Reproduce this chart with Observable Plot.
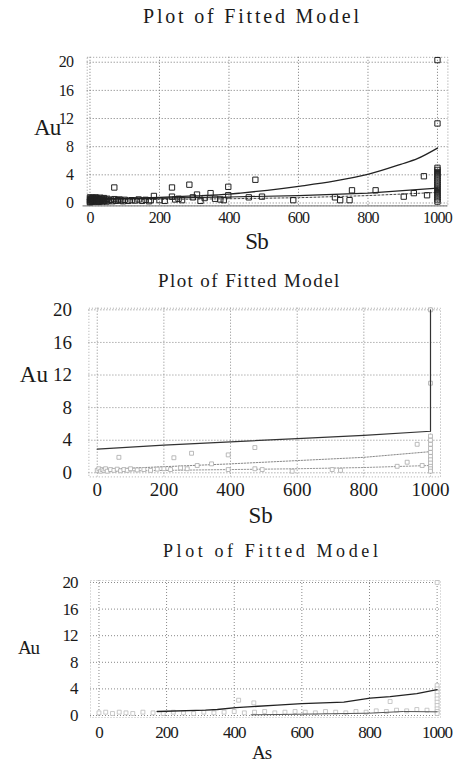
<!DOCTYPE html>
<html>
<head>
<meta charset="utf-8">
<script src="https://cdn.jsdelivr.net/npm/d3@7"></script>
<script src="https://cdn.jsdelivr.net/npm/@observablehq/plot@0.6"></script>
<style>
  body { margin: 0; background: #fff; }
  #root { position: relative; width: 456px; height: 762px; overflow: hidden; background: #fff; }
  .ttl { position: absolute; font-family: "Liberation Serif", "DejaVu Serif", serif; color: #1a1a1a; white-space: nowrap; line-height: 1; }
  .pnl { position: absolute; left: 0; }
  .pnl text { font-family: "Liberation Serif", "DejaVu Serif", serif; }
</style>
</head>
<body>
<div id="root"></div>
<script>
// ---------- shared tick labels ----------
const ticksX = [0, 200, 400, 600, 800, 1000];
const ticksY = [0, 4, 8, 12, 16, 20];
const titleText = "Plot of Fitted Model";
const yLabel = "Au";
const xLabels = ["Sb", "Sb", "As"];

// ---------- panel 1 (Au vs Sb) ----------
const p1X = [0,0,0,0,2,3,4,5,6,8,8,10,10,12,14,15,16,18,20,20,22,24,25,26,28,30,30,32,35,36,38,40,42,45,48,50,55,60,65,70,75,80,85,90,95,100,110,120,130,140,150,160,170,175,
  70,184,236,236,286,296,308,318,347,375,398,398,457,476,495,585,705,720,747,754,822,903,932,961,970,
  200,215,245,255,265,330,360,385,
  1000,1000,1000,1000,1000,1000,1000,1000,1000,1000,1000,1000,1000,1000,1000,1000,1000,1000,1000];
const p1Y = [0.2,0.5,0.8,0.1,0.4,0.7,0.2,0.55,0.3,0.75,0.15,0.45,0.65,0.25,0.6,0.35,0.8,0.5,0.2,0.7,0.4,0.6,0.15,0.3,0.55,0.75,0.25,0.45,0.6,0.2,0.4,0.7,0.3,0.5,0.2,0.6,0.35,0.45,0.25,0.55,0.3,0.4,0.5,0.35,0.25,0.45,0.3,0.4,0.35,0.5,0.3,0.45,0.25,0.4,
  2.2,1.0,2.2,0.9,2.6,0.8,1.2,0.3,1.4,0.5,2.3,1.1,0.8,3.3,0.9,0.4,0.8,0.4,0.4,1.8,1.8,0.9,1.4,3.8,1.1,
  0.4,0.3,0.5,0.6,0.4,0.7,0.6,0.4,
  20.3,11.3,5.0,4.7,4.4,4.1,3.8,3.5,3.2,2.9,2.6,2.3,2.0,1.7,1.4,1.1,0.8,0.5,0.2];
const p1UpperX = [0, 100, 200, 300, 400, 433, 510, 606, 702, 802, 894, 942, 1000];
const p1UpperY = [0.55, 0.65, 0.8, 1.0, 1.25, 1.4, 1.8, 2.4, 3.1, 4.1, 5.5, 6.3, 7.8];
const p1FitX = [0, 200, 400, 600, 800, 1000];
const p1FitY = [0.55, 0.7, 0.85, 1.05, 1.4, 2.1];
const p1LowX = [0, 200, 400, 600, 800, 1000];
const p1LowY = [0.45, 0.5, 0.6, 0.75, 1.05, 1.5];

// ---------- panel 2 (Au vs Sb) ----------
const p2X = [0,5,10,15,20,25,30,40,50,60,70,80,90,100,120,140,160,180,200,220,250,270,
  65,230,283,393,473,343,300,393,473,495,585,705,730,900,930,960,975,
  1000,1000,1000,1000,1000,1000,1000,1000,1000,1000,1000,1000,1000];
const p2Y = [0.3,0.5,0.2,0.4,0.3,0.5,0.2,0.4,0.3,0.45,0.25,0.4,0.3,0.5,0.35,0.4,0.3,0.45,0.5,0.4,0.6,0.5,
  1.9,1.85,2.4,2.2,3.1,1.1,0.9,0.4,0.5,0.4,0.2,0.4,0.3,0.8,1.3,3.5,0.9,
  20.0,11.0,4.5,4.0,3.5,3.0,2.5,2.0,1.6,1.2,0.8,0.5,0.2];
const p2UpperX = [0, 200, 400, 600, 800, 1000, 1000];
const p2UpperY = [2.9, 3.4, 3.8, 4.2, 4.6, 5.1, 20];
const p2MidX = [0, 200, 400, 600, 800, 1000];
const p2MidY = [0.4, 0.75, 1.1, 1.5, 1.9, 2.6];
const p2LowX = [0, 200, 400, 600, 800, 1000];
const p2LowY = [0.15, 0.3, 0.4, 0.5, 0.65, 0.9];

// ---------- panel 3 (Au vs As) ----------
const p3X = [0,20,40,60,80,100,130,160,190,220,250,280,310,340,370,400,430,460,490,520,550,580,610,640,670,700,730,760,790,820,850,880,910,940,970,
  413,458,861,
  1000,1000,1000,1000,1000,1000,1000,1000,1000,1000,1000];
const p3Y = [0.4,0.5,0.3,0.5,0.4,0.3,0.5,0.4,0.3,0.5,0.4,0.3,0.5,0.4,0.5,0.6,0.4,0.5,0.6,0.4,0.5,0.6,0.5,0.4,0.6,0.5,0.4,0.6,0.5,0.7,0.6,0.8,0.7,0.9,0.8,
  2.3,1.9,2.1,
  20.0,4.5,4.0,3.5,3.0,2.5,2.0,1.5,1.0,0.6,0.3];
const p3UpperX = [172, 315, 350, 405, 527, 600, 724, 802, 861, 940, 1000];
const p3UpperY = [0.6, 0.8, 0.9, 1.2, 1.55, 1.8, 2.0, 2.6, 2.85, 3.3, 3.9];
const p3LowX = [450, 600, 800, 900, 1000];
const p3LowY = [0.1, 0.2, 0.35, 0.6, 0.55];

const root = document.getElementById("root");
const serif = "Liberation Serif, DejaVu Serif, serif";
const fmt = d => String(d);

function addTitle(top, left, size, spacing) {
  const d = document.createElement("div");
  d.className = "ttl";
  d.style.top = top + "px";
  d.style.left = left + "px";
  d.style.fontSize = size + "px";
  d.style.letterSpacing = spacing + "px";
  d.textContent = titleText;
  root.appendChild(d);
}

function panel(cfg) {
  const marks = [
    Plot.gridX(ticksX, {stroke: cfg.grid, strokeOpacity: 1, strokeDasharray: "1,2"}),
    Plot.gridY(ticksY, {stroke: cfg.grid, strokeOpacity: 1, strokeDasharray: "1,2"}),
    Plot.frame({stroke: cfg.frame, strokeDasharray: "1,2"}),
    ...cfg.extra,
    Plot.axisX(ticksX, {tickSize: 0, tickPadding: cfg.xPad, tickFormat: fmt, fontSize: cfg.tickFont, fontFamily: serif, fill: "#1a1a1a", label: null}),
    Plot.axisY(ticksY, {tickSize: 0, tickPadding: cfg.yPad, tickFormat: fmt, fontSize: cfg.tickFont, fontFamily: serif, fill: "#1a1a1a", label: null}),
    Plot.text([yLabel], {frameAnchor: "left", dx: cfg.auDx, dy: cfg.auDy, fontSize: cfg.labFont, fontFamily: serif, fill: "#1a1a1a", textAnchor: "middle"}),
    Plot.text([cfg.xLabel], {frameAnchor: "bottom", dx: cfg.sbDx, dy: cfg.sbDy, fontSize: cfg.labFont, fontFamily: serif, fill: "#1a1a1a", textAnchor: "middle"})
  ];
  const svg = Plot.plot({
    width: 456,
    height: cfg.height,
    marginLeft: cfg.ml, marginRight: cfg.mr, marginTop: cfg.mt, marginBottom: cfg.mb,
    x: {domain: cfg.xd, axis: null},
    y: {domain: cfg.yd, axis: null},
    style: {background: "transparent", fontFamily: serif, letterSpacing: cfg.ls + "px"},
    marks
  });
  svg.classList.add("pnl");
  svg.style.top = cfg.top + "px";
  root.appendChild(svg);
}

// Panel 1
panel({
  top: 30, height: 230, ml: 86.7, mr: 8.6, mt: 26.8, mb: 54.7,
  xd: [-8, 1030], yd: [-0.4, 20.7],
  grid: "#777", frame: "#999", tickFont: 16, labFont: 23, ls: -0.8,
  xPad: 6, yPad: 14, auDx: -40, auDy: -4, sbDx: -11, sbDy: 43, xLabel: xLabels[0],
  extra: [
    Plot.ruleY([-0.4], {stroke: "#888", strokeWidth: 1.2, x1: -20, x2: 1030}),
    Plot.line(p1LowX, {x: p1LowX, y: p1LowY, stroke: "#444", strokeWidth: 1, strokeDasharray: "2,2"}),
    Plot.line(p1FitX, {x: p1FitX, y: p1FitY, stroke: "#222", strokeWidth: 1.2}),
    Plot.line(p1UpperX, {x: p1UpperX, y: p1UpperY, stroke: "#222", strokeWidth: 1.3, curve: "monotone-x"}),
    Plot.dot(p1X, {x: p1X, y: p1Y, symbol: "square", r: 3, stroke: "#222", strokeWidth: 1, fill: "none"})
  ]
});

// Panel 2
panel({
  top: 290, height: 240, ml: 88.4, mr: 16, mt: 17.7, mb: 53.6,
  xd: [-25, 1030], yd: [-0.5, 20.2],
  grid: "#888", frame: "#aaa", tickFont: 19, labFont: 23, ls: 0,
  xPad: 6, yPad: 17, auDx: -55, auDy: -18, sbDx: -4, sbDy: 46, xLabel: xLabels[1],
  extra: [
    Plot.line(p2LowX, {x: p2LowX, y: p2LowY, stroke: "#999", strokeWidth: 1, strokeDasharray: "1.5,1.5"}),
    Plot.line(p2MidX, {x: p2MidX, y: p2MidY, stroke: "#888", strokeWidth: 1, strokeDasharray: "1.5,1.5"}),
    Plot.dot(p2X, {x: p2X, y: p2Y, symbol: "square", r: 2.2, stroke: "#aaa", strokeWidth: 0.8, fill: "white"}),
    Plot.line(p2UpperX, {x: p2UpperX, y: p2UpperY, stroke: "#333", strokeWidth: 1.2})
  ]
});

// Panel 3
panel({
  top: 565, height: 197, ml: 90, mr: 16, mt: 15, mb: 45,
  xd: [-25, 1010], yd: [-0.3, 20.3],
  grid: "#888", frame: "#bbb", tickFont: 17, labFont: 19, ls: -1,
  xPad: 8, yPad: 13, auDx: -62, auDy: -1, sbDx: -4, sbDy: 41, xLabel: xLabels[2],
  extra: [
    Plot.dot(p3X, {x: p3X, y: p3Y, symbol: "square", r: 2.2, stroke: "#bbb", strokeWidth: 0.8, fill: "white"}),
    Plot.line(p3LowX, {x: p3LowX, y: p3LowY, stroke: "#555", strokeWidth: 1}),
    Plot.line(p3UpperX, {x: p3UpperX, y: p3UpperY, stroke: "#222", strokeWidth: 1.3})
  ]
});

addTitle(6, 143, 20, 2.8);
addTitle(271, 158, 19, 1.4);
addTitle(542, 163, 18, 3.6);
</script>
</body>
</html>
